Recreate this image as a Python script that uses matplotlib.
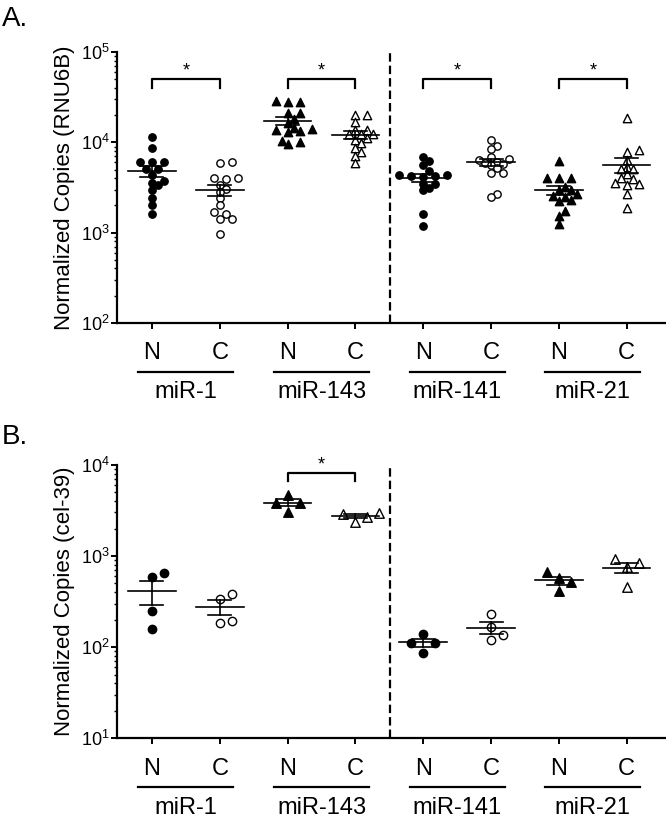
import numpy as np
import matplotlib
matplotlib.use("Agg")
import matplotlib.pyplot as plt
import matplotlib.transforms as mtrans

plt.rcParams['font.family'] = ['Liberation Sans', 'DejaVu Sans']
plt.rcParams['mathtext.default'] = 'regular'

# gruplar ve kosullar
mirs = ['miR-1', 'miR-143', 'miR-141', 'miR-21']
conds = ['N', 'C']
markers = ['o', '^', 'o', '^']

# A paneli - RNU6B normalize kopya sayilari (N, C)
a_mir1_n = [11560, 8580, 6000, 6000, 6000, 5070, 5070, 4340, 3715, 3560, 3360, 3000, 2390, 2010, 1600]
a_mir1_c = [5995, 5850, 3980, 3980, 3880, 3355, 3080, 2830, 2390, 2015, 1700, 1625, 1430, 1430, 975]
a_mir143_n = [28600, 28300, 28000, 21000, 21000, 18000, 16260, 14300, 13940, 13700, 13480, 13030, 10500, 10000, 9560]
a_mir143_c = [20130, 20130, 17000, 13800, 13800, 12300, 12300, 12300, 11080, 10600, 9770, 8580, 7870, 7050, 5850]
a_mir141_n = [6810, 6250, 5600, 4840, 4340, 4340, 4230, 4230, 4160, 3500, 3500, 3160, 2950, 1625, 1185]
a_mir141_c = [10600, 9100, 8360, 6810, 6480, 6370, 6100, 5940, 5700, 5600, 5140, 4530, 4530, 2670, 2450]
a_mir21_n = [6250, 4080, 4080, 4080, 3210, 3000, 3000, 2670, 2540, 2490, 2290, 2250, 1740, 1530, 1240]
a_mir21_c = [18800, 8220, 7870, 6370, 5370, 5010, 5010, 4450, 4080, 3880, 3550, 3500, 3355, 2710, 1850]

# B paneli - cel-39 normalize kopya sayilari
b_mir1_n = [647, 585, 249, 160]
b_mir1_c = [382, 340, 192, 184]
b_mir143_n = [4630, 3850, 3850, 3050]
b_mir143_c = [2990, 2920, 2690, 2370]
b_mir141_n = [141, 111, 111, 87]
b_mir141_c = [233, 167, 135, 121]
b_mir21_n = [664, 570, 516, 408]
b_mir21_c = [927, 832, 765, 455]

a_data = [a_mir1_n, a_mir1_c, a_mir143_n, a_mir143_c, a_mir141_n, a_mir141_c, a_mir21_n, a_mir21_c]
b_data = [b_mir1_n, b_mir1_c, b_mir143_n, b_mir143_c, b_mir141_n, b_mir141_c, b_mir21_n, b_mir21_c]
a_sig = [0, 1, 2, 3]   # yildizli karsilastirmalar
b_sig = [1]

W, H = 666, 821
fig = plt.figure(figsize=(W / 100, H / 100), dpi=100)


def px_axes(left, top, bottom):
    return fig.add_axes([left / W, 1 - bottom / H, (W - left) / W, (bottom - top) / H])


def swarm(ax, xc, vals, step, dist):
    vals = np.asarray(vals, float)
    tr = ax.transData
    ypx = tr.transform(np.column_stack([np.full(len(vals), xc), vals]))[:, 1]
    ppu = tr.transform((1, 1))[0] - tr.transform((0, 1))[0]
    placed = []
    offs = np.zeros(len(vals))
    for i in np.argsort(vals):
        for k in [0, 1, -1, 2, -2, 3, -3, 4, -4]:
            xo = k * step
            if all((xo - px) ** 2 + (ypx[i] - py) ** 2 >= dist ** 2 for px, py in placed):
                break
        placed.append((xo, ypx[i]))
        offs[i] = xo
    return xc + offs / ppu


def panel(ax, data, ylim, ylabel, msize, step, dist):
    ax.set_yscale('log')
    ax.set_xlim(-0.52, 7.58)
    ax.set_ylim(*ylim)
    for s in ['top', 'right']:
        ax.spines[s].set_visible(False)
    for s in ['left', 'bottom']:
        ax.spines[s].set_linewidth(1.6)
    ax.set_xticks(range(8))
    ax.set_xticklabels([])
    ax.tick_params(axis='x', length=4, width=1.4)
    ax.tick_params(axis='y', which='major', length=4, width=1.4, labelsize=13, pad=1)
    ax.tick_params(axis='y', which='minor', length=2.5, width=1.0)
    ax.yaxis.set_major_formatter(matplotlib.ticker.FuncFormatter(
        lambda v, p: r'$10^{%d}$' % round(np.log10(v))))
    ax.set_ylabel(ylabel, fontsize=16, labelpad=4)

    for i, vals in enumerate(data):
        m = markers[i // 2]
        face = 'black' if i % 2 == 0 else 'white'
        s = msize * (1.3 if m == '^' else 1.0)
        xs = swarm(ax, i, vals, step, dist)
        ax.scatter(xs, vals, marker=m, s=s, facecolor=face, edgecolor='black',
                   linewidths=1.0, zorder=2)
        mean = np.mean(vals)
        sem = np.std(vals, ddof=1) / np.sqrt(len(vals))
        ax.plot([i - 0.35, i + 0.35], [mean, mean], color='black', lw=1.2, zorder=3)
        ax.plot([i - 0.17, i + 0.17], [mean + sem, mean + sem], color='black', lw=1.2, zorder=3)
        ax.plot([i - 0.17, i + 0.17], [mean - sem, mean - sem], color='black', lw=1.2, zorder=3)
        ax.plot([i, i], [mean - sem, mean + sem], color='black', lw=1.2, zorder=3)

    ax.axvline(3.51, color='black', lw=1.6, ls=(0, (3.8, 1.8)))

    blend = mtrans.blended_transform_factory(ax.transData, ax.transAxes)
    for j, mir in enumerate(mirs):
        for k, c in enumerate(conds):
            ax.annotate(c, xy=(2 * j + k, 0), xycoords=blend, xytext=(0, -22),
                        textcoords='offset points', ha='center', va='center', fontsize=17)
        off = mtrans.ScaledTranslation(0, -0.49, fig.dpi_scale_trans)
        ax.plot([2 * j - 0.2, 2 * j + 1.2], [0, 0], color='black', lw=1.6,
                transform=blend + off, clip_on=False)
        ax.annotate(mir, xy=(2 * j + 0.5, 0), xycoords=blend, xytext=(0, -50),
                    textcoords='offset points', ha='center', va='center', fontsize=17)
    return blend


def bracket(ax, bl, j, y_top, y_leg):
    x0, x1 = 2 * j, 2 * j + 1
    ax.plot([x0, x0, x1, x1], [y_leg, y_top, y_top, y_leg], color='black', lw=1.6,
            transform=bl, clip_on=False)
    ax.annotate('*', xy=(x0 + 0.5, y_top), xycoords=bl, xytext=(0, 3),
                textcoords='offset points', ha='center', va='baseline', fontsize=13)


# A paneli
axA = px_axes(116.7, 52.3, 322.7)
blA = panel(axA, a_data, (1e2, 1e5), 'Normalized Copies (RNU6B)', 28, 6, 6.4)
for j in a_sig:
    bracket(axA, blA, j, 0.9, 0.867)

# B paneli
axB = px_axes(116.7, 464.8, 738.3)
blB = panel(axB, b_data, (1e1, 1e4), 'Normalized Copies (cel-39)', 36, 12, 10)
for j in b_sig:
    bracket(axB, blB, j, 0.969, 0.942)

fig.text(2 / W, 1 - 6 / H, 'A.', fontsize=20, ha='left', va='top')
fig.text(2 / W, 1 - 424 / H, 'B.', fontsize=20, ha='left', va='top')

fig.savefig('out.png', dpi=100)
